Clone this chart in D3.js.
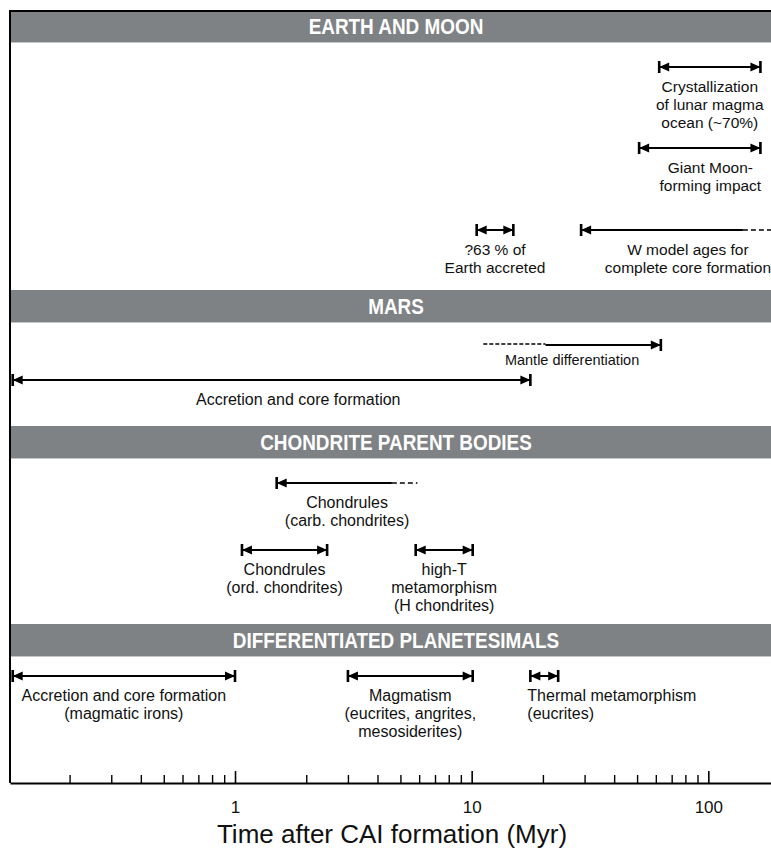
<!DOCTYPE html>
<html>
<head>
<meta charset="utf-8">
<script src="https://cdn.jsdelivr.net/npm/d3@7"></script>
<style>
  body { margin: 0; background: #fff; }
  svg { display: block; font-family: "Liberation Sans", Arial, Helvetica, sans-serif; }
</style>
</head>
<body>
<div id="chart"></div>
<script>
// section headings, top to bottom
const groupNames = ["EARTH AND MOON", "MARS", "CHONDRITE PARENT BODIES", "DIFFERENTIATED PLANETESIMALS"];

// one entry per time interval (Myr after CAI formation)
const eventLabels = [
    ["Crystallization", "of lunar magma", "ocean (~70%)"],
    ["Giant Moon-", "forming impact"],
    ["?63 % of", "Earth accreted"],
    ["W model ages for", "complete core formation"],
    ["Mantle differentiation"],
    ["Accretion and core formation"],
    ["Chondrules", "(carb. chondrites)"],
    ["Chondrules", "(ord. chondrites)"],
    ["high-T", "metamorphism", "(H chondrites)"],
    ["Accretion and core formation", "(magmatic irons)"],
    ["Magmatism", "(eucrites, angrites,", "mesosiderites)"],
    ["Thermal metamorphism", "(eucrites)"]
];
const eventGroup = [0, 0, 0, 0, 1, 1, 2, 2, 2, 3, 3, 3];
const eventRow   = [0, 1, 2, 2, 0, 1, 0, 1, 1, 0, 0, 0];
const eventStart = [62, 51, 10.5, 29, 11.2, 0.115, 1.5, 1.07, 5.8, 0.115, 3.0, 17.7];
const eventEnd   = [166, 166, 15, 184, 63, 17.7, 5.9, 2.45, 10.1, 1.0, 10.1, 23.2];
// solid part of each interval, outside of it the line is dashed
const solidFrom  = [62, 51, 10.5, 29, 20.5, 0.115, 1.5, 1.07, 5.8, 0.115, 3.0, 17.7];
const solidTo    = [166, 166, 15, 140, 63, 17.7, 4.6, 2.45, 10.1, 1.0, 10.1, 23.2];
// label position on the time axis (null = middle of the interval)
const labelAt    = [null, 102, null, 82, null, 1.85, null, null, null, null, null, 17.7];

const majorTicks = [1, 10, 100];
const minorTicks = [0.2, 0.3, 0.4, 0.5, 0.6, 0.7, 0.8, 0.9,
                    2, 3, 4, 5, 6, 7, 8, 9,
                    20, 30, 40, 50, 60, 70, 80, 90];

function drawChart() {
    const width = 771;
    const height = 852;
    const left = 10;
    const axisY = 783;

    // layout of the sections (pixels)
    const groupTop = [10, 290, 426, 624];
    const bandH = 32;
    const rowOffset = [[25, 106, 188], [23, 58], [25, 92], [20]];

    const svg = d3.select("#chart")
        .append("svg")
        .attr("width", width)
        .attr("height", height);

    const x = d3.scaleLog()
        .domain([0.112, 184])
        .range([left, width]);

    // gray header bands
    groupNames.forEach((name, i) => {
        svg.append("rect")
            .attr("x", left)
            .attr("y", groupTop[i])
            .attr("width", width - left)
            .attr("height", bandH)
            .attr("fill", "#7f8285");
        svg.append("line")
            .attr("x1", left).attr("x2", width)
            .attr("y1", groupTop[i] + bandH + 0.5).attr("y2", groupTop[i] + bandH + 0.5)
            .attr("stroke", "#c4c5c6");
        // condensed bold heading
        svg.append("text")
            .attr("transform", `translate(396,${groupTop[i] + bandH / 2 + 8}) scale(0.86,1)`)
            .attr("text-anchor", "middle")
            .attr("fill", "#fff")
            .attr("font-weight", "bold")
            .attr("font-size", "22px")
            .text(name);
    });

    // frame: top rule and left edge
    svg.append("line")
        .attr("x1", left - 1).attr("x2", width)
        .attr("y1", groupTop[0] + 1).attr("y2", groupTop[0] + 1)
        .attr("stroke", "#000").attr("stroke-width", 2);
    svg.append("line")
        .attr("x1", left).attr("x2", left)
        .attr("y1", groupTop[0]).attr("y2", axisY)
        .attr("stroke", "#000").attr("stroke-width", 2);

    const events = eventLabels.map((lab, i) => ({
        lines: lab,
        group: eventGroup[i],
        y: groupTop[eventGroup[i]] + bandH + rowOffset[eventGroup[i]][eventRow[i]],
        start: eventStart[i],
        end: eventEnd[i],
        s0: solidFrom[i],
        s1: solidTo[i],
        at: labelAt[i],
        anchor: i === 11 ? "start" : "middle"
    }));

    const g = svg.selectAll(".event")
        .data(events)
        .enter()
        .append("g")
        .attr("class", "event");

    // dashed (uncertain) parts
    g.filter(d => d.start < d.s0)
        .append("line")
        .attr("x1", d => x(d.start)).attr("x2", d => x(d.s0))
        .attr("y1", d => d.y - 1).attr("y2", d => d.y - 1)
        .attr("stroke", "#000").attr("stroke-width", 1.6)
        .attr("stroke-dasharray", "4,2");
    g.filter(d => d.end > d.s1)
        .append("line")
        .attr("x1", d => x(d.s1)).attr("x2", d => x(d.end))
        .attr("y1", d => d.y).attr("y2", d => d.y)
        .attr("stroke", "#000").attr("stroke-width", 1.6)
        .attr("stroke-dasharray", "5,3");

    // solid part
    g.append("line")
        .attr("x1", d => x(d.s0)).attr("x2", d => x(d.s1))
        .attr("y1", d => d.y).attr("y2", d => d.y)
        .attr("stroke", "#000").attr("stroke-width", 2);

    // bar + arrowhead at solid ends
    function cap(sel, getX, dir) {
        sel.append("rect")
            .attr("x", d => getX(d) - 1.3)
            .attr("y", d => d.y - 6)
            .attr("width", 2.6)
            .attr("height", 12)
            .attr("fill", "#000");
        sel.append("path")
            .attr("d", d => {
                const px = getX(d);
                return `M${px},${d.y} L${px + dir * 10},${d.y - 4.5} L${px + dir * 10},${d.y + 4.5} Z`;
            })
            .attr("fill", "#000");
    }
    cap(g.filter(d => d.start === d.s0), d => x(d.s0), 1);
    cap(g.filter(d => d.end === d.s1), d => x(d.s1), -1);

    // labels below each interval
    g.append("text")
        .attr("text-anchor", d => d.anchor)
        .attr("font-size", d => d.group === 0 ? "15.5px" : (d.lines[0] === "Mantle differentiation" ? "14.5px" : "16px"))
        .attr("fill", "#111")
        .each(function(d) {
            const tx = d.anchor === "start" ? x(d.start) - 3
                : d.at !== null ? x(d.at) : (x(d.start) + x(d.end)) / 2;
            const t = d3.select(this);
            d.lines.forEach((ln, k) => {
                t.append("tspan")
                    .attr("x", tx)
                    .attr("y", d.y + (d.lines.length === 1 && d.y < 360 ? 20 : 25) + k * 18)
                    .text(ln);
            });
        });

    // time axis: major ticks with labels, minor ticks without
    const axisMajor = svg.append("g")
        .attr("transform", `translate(0,${axisY})`)
        .call(d3.axisBottom(x)
            .tickValues(majorTicks)
            .tickFormat(d3.format("d"))
            .tickSize(-12)
            .tickSizeOuter(0)
            .tickPadding(18));
    axisMajor.select(".domain").attr("stroke-width", 2);
    axisMajor.selectAll(".tick line").attr("stroke-width", 1.6);
    axisMajor.selectAll(".tick text")
        .attr("font-family", "Liberation Sans, Arial, sans-serif")
        .attr("font-size", "17px")
        .attr("fill", "#111");

    const axisMinor = svg.append("g")
        .attr("transform", `translate(0,${axisY})`)
        .call(d3.axisBottom(x)
            .tickValues(minorTicks)
            .tickFormat("")
            .tickSize(-8)
            .tickSizeOuter(0));
    axisMinor.select(".domain").remove();
    axisMinor.selectAll(".tick line").attr("stroke-width", 1.4);

    // axis title
    svg.append("text")
        .attr("x", 392)
        .attr("y", 843)
        .attr("text-anchor", "middle")
        .attr("font-size", "26px")
        .attr("fill", "#111")
        .text("Time after CAI formation (Myr)");
}

document.addEventListener('DOMContentLoaded', function() {
    drawChart();
});
</script>
</body>
</html>
